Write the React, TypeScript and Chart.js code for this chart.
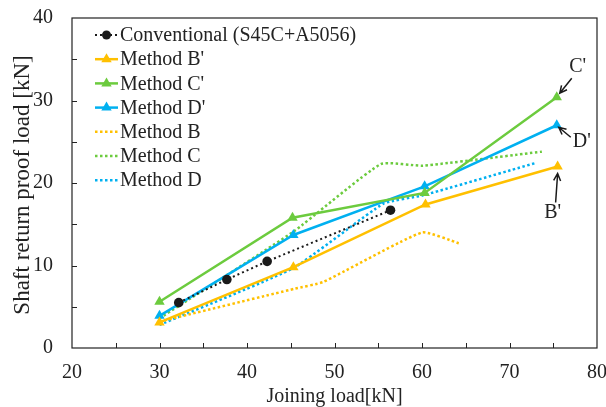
import { useEffect, useRef } from "react";
import { Chart, registerables } from "chart.js";
Chart.register(...registerables);

// ---- data ----
const X_MIN = 20, X_MAX = 80, X_STEP = 10;
const Y_MIN = 0, Y_MAX = 40, Y_STEP = 10;
const MINOR = 5;

const convX = [32.2, 37.7, 42.3, 56.4];
const convY = [5.5, 8.3, 10.5, 16.7];

const bPrimeX = [30, 45.3, 60.4, 75.5];
const bPrimeY = [3.1, 9.8, 17.4, 22.0];

const cPrimeX = [30, 45.2, 60.3, 75.4];
const cPrimeY = [5.6, 15.8, 18.8, 30.4];

const dPrimeX = [30, 45.3, 60.3, 75.4];
const dPrimeY = [3.9, 13.7, 19.6, 27.0];

const bX = [30, 45.5, 48.7, 60, 64.2];
const bY = [3.2, 7.2, 8.0, 14.0, 12.7];

const cX = [30, 45.3, 55.3, 60.1, 73.7];
const cY = [3.6, 14.1, 22.3, 22.1, 23.8];

const dX = [30, 45.3, 55.6, 60.1, 72.9];
const dY = [2.8, 9.7, 17.5, 18.5, 22.4];

const labels = [
  "Conventional (S45C+A5056)",
  "Method B'",
  "Method C'",
  "Method D'",
  "Method B",
  "Method C",
  "Method D",
];
const annot = ["B'", "C'", "D'"];

const xTitle = "Joining load[kN]";
const yTitle = "Shaft return proof load [kN]";

// ---- styles ----
const ORANGE = "#FFC000";
const GREEN = "#6CCB3E";
const BLUE = "#00B0F0";
const BLACK = "#1a1a1a";
const FONT = "'Liberation Serif', 'Times New Roman', serif";

const pts = (xs: number[], ys: number[]) => xs.map((x, i) => ({ x, y: ys[i] }));

function drawMarker(ctx: CanvasRenderingContext2D, style: string, x: number, y: number, r: number, color: string) {
  ctx.fillStyle = color;
  ctx.beginPath();
  if (style === "circle") {
    ctx.arc(x, y, r, 0, Math.PI * 2);
  } else if (style === "triangle") {
    ctx.moveTo(x, y - r);
    ctx.lineTo(x + r * 0.866, y + r * 0.5);
    ctx.lineTo(x - r * 0.866, y + r * 0.5);
    ctx.closePath();
  } else {
    return;
  }
  ctx.fill();
}

function arrow(ctx: CanvasRenderingContext2D, x1: number, y1: number, x2: number, y2: number) {
  ctx.strokeStyle = BLACK;
  ctx.lineWidth = 1.5;
  ctx.setLineDash([]);
  ctx.beginPath();
  ctx.moveTo(x1, y1);
  ctx.lineTo(x2, y2);
  const ang = Math.atan2(y2 - y1, x2 - x1);
  const h = 8;
  ctx.moveTo(x2 - h * Math.cos(ang - 0.45), y2 - h * Math.sin(ang - 0.45));
  ctx.lineTo(x2, y2);
  ctx.lineTo(x2 - h * Math.cos(ang + 0.45), y2 - h * Math.sin(ang + 0.45));
  ctx.stroke();
}

const decorPlugin = {
  id: "decor",
  afterDraw(chart: any) {
    const { ctx, chartArea: a, scales } = chart;
    const xs = scales.x, ys = scales.y;
    ctx.save();
    // frame
    ctx.strokeStyle = "#222";
    ctx.lineWidth = 1.2;
    ctx.setLineDash([]);
    ctx.strokeRect(a.left, a.top, a.right - a.left, a.bottom - a.top);
    // inward ticks
    ctx.beginPath();
    for (let v = X_MIN + MINOR; v < X_MAX; v += MINOR) {
      const px = Math.round(xs.getPixelForValue(v)) + 0.5;
      ctx.moveTo(px, a.bottom);
      ctx.lineTo(px, a.bottom - 5);
    }
    for (let v = Y_MIN + MINOR; v < Y_MAX; v += MINOR) {
      const py = Math.round(ys.getPixelForValue(v)) + 0.5;
      ctx.moveTo(a.left, py);
      ctx.lineTo(a.left + 5, py);
    }
    ctx.lineWidth = 1;
    ctx.stroke();

    // axis titles
    ctx.fillStyle = "#222";
    ctx.font = `20px ${FONT}`;
    ctx.textAlign = "center";
    ctx.textBaseline = "middle";
    ctx.fillText(xTitle, (a.left + a.right) / 2, 397);
    ctx.save();
    ctx.translate(23, (a.top + a.bottom) / 2 + 2);
    ctx.rotate(-Math.PI / 2);
    ctx.font = `23px ${FONT}`;
    ctx.fillText(yTitle, 0, 0);
    ctx.restore();

    // legend
    const lx = a.left + 23;
    const ly0 = a.top + 17;
    const rowH = 24.2;
    chart.data.datasets.forEach((ds: any, i: number) => {
      const yy = ly0 + i * rowH;
      ctx.strokeStyle = ds.borderColor;
      ctx.lineWidth = ds.borderWidth;
      ctx.setLineDash(ds.borderDash || []);
      ctx.beginPath();
      ctx.moveTo(lx, yy);
      ctx.lineTo(lx + 23, yy);
      ctx.stroke();
      ctx.setLineDash([]);
      if (ds.pointRadius > 0) drawMarker(ctx, ds.pointStyle, lx + 11.5, yy, ds.pointStyle === "circle" ? 4.5 : 6, ds.pointBackgroundColor);
      ctx.fillStyle = "#222";
      ctx.font = `20px ${FONT}`;
      ctx.textAlign = "left";
      ctx.textBaseline = "middle";
      ctx.fillText(ds.label, lx + 25, yy + 1);
    });

    // annotations
    const pix = (dsIndex: number) => {
      const ds = chart.data.datasets[dsIndex];
      const p = ds.data[ds.data.length - 1];
      return { x: xs.getPixelForValue(p.x), y: ys.getPixelForValue(p.y) };
    };
    ctx.fillStyle = "#222";
    ctx.font = `20px ${FONT}`;
    ctx.textAlign = "center";
    ctx.textBaseline = "middle";
    const pb = pix(1), pc = pix(2), pd = pix(3);
    ctx.fillText(annot[1], pc.x + 21, pc.y - 30);
    arrow(ctx, pc.x + 15, pc.y - 19, pc.x + 3, pc.y - 4);
    ctx.fillText(annot[2], pd.x + 25, pd.y + 16);
    arrow(ctx, pd.x + 14, pd.y + 12, pd.x + 2, pd.y + 2);
    ctx.fillText(annot[0], pb.x - 5, pb.y + 46);
    arrow(ctx, pb.x - 2, pb.y + 36, pb.x, pb.y + 7);
    ctx.restore();
  },
};

export default function App() {
  const ref = useRef<HTMLCanvasElement>(null);
  useEffect(() => {
    if (!ref.current) return;
    const solid = (label: string, data: any, color: string) => ({
      label, data, borderColor: color, backgroundColor: color, borderWidth: 2.5,
      pointStyle: "triangle", pointRadius: 6, pointBackgroundColor: color, pointBorderColor: color,
      pointBorderWidth: 0, tension: 0, order: 1,
    });
    const dotted = (label: string, data: any, color: string) => ({
      label, data, borderColor: color, backgroundColor: color, borderWidth: 2.5,
      borderDash: [2.5, 2.5], pointRadius: 0, pointStyle: "line", pointBackgroundColor: color,
      tension: 0.15, order: 2,
    });
    const chart = new Chart(ref.current, {
      type: "line",
      data: {
        datasets: [
          {
            label: labels[0], data: pts(convX, convY), borderColor: BLACK, backgroundColor: BLACK,
            borderWidth: 2, borderDash: [2, 3], pointStyle: "circle", pointRadius: 4.8,
            pointBackgroundColor: BLACK, pointBorderColor: BLACK, pointBorderWidth: 0, order: 0,
          },
          solid(labels[1], pts(bPrimeX, bPrimeY), ORANGE),
          solid(labels[2], pts(cPrimeX, cPrimeY), GREEN),
          solid(labels[3], pts(dPrimeX, dPrimeY), BLUE),
          dotted(labels[4], pts(bX, bY), ORANGE),
          dotted(labels[5], pts(cX, cY), GREEN),
          dotted(labels[6], pts(dX, dY), BLUE),
        ] as any,
      },
      options: {
        animation: false,
        responsive: false,
        devicePixelRatio: 1,
        layout: { padding: { left: 0, top: 18, right: 9, bottom: 0 } },
        plugins: { legend: { display: false }, tooltip: { enabled: false } },
        scales: {
          x: {
            type: "linear", min: X_MIN, max: X_MAX,
            ticks: { stepSize: X_STEP, color: "#222", font: { family: FONT, size: 20 }, padding: 13, maxRotation: 0 },
            grid: { display: false, drawTicks: false },
            border: { display: false },
            afterFit: (s: any) => { s.height = 59; s.paddingLeft = 0; s.paddingRight = 0; },
          },
          y: {
            type: "linear", min: Y_MIN, max: Y_MAX,
            ticks: { stepSize: Y_STEP, color: "#222", font: { family: FONT, size: 20 }, padding: 19 },
            grid: { display: false, drawTicks: false },
            border: { display: false },
            afterFit: (s: any) => { s.width = 72; s.paddingTop = 0; s.paddingBottom = 0; },
          },
        },
      },
      plugins: [decorPlugin],
    });
    return () => chart.destroy();
  }, []);
  return (
    <div style={{ position: "absolute", left: 0, top: 0, width: 606, height: 407, background: "#fff" }}>
      <canvas ref={ref} width={606} height={407} style={{ display: "block" }} />
    </div>
  );
}
